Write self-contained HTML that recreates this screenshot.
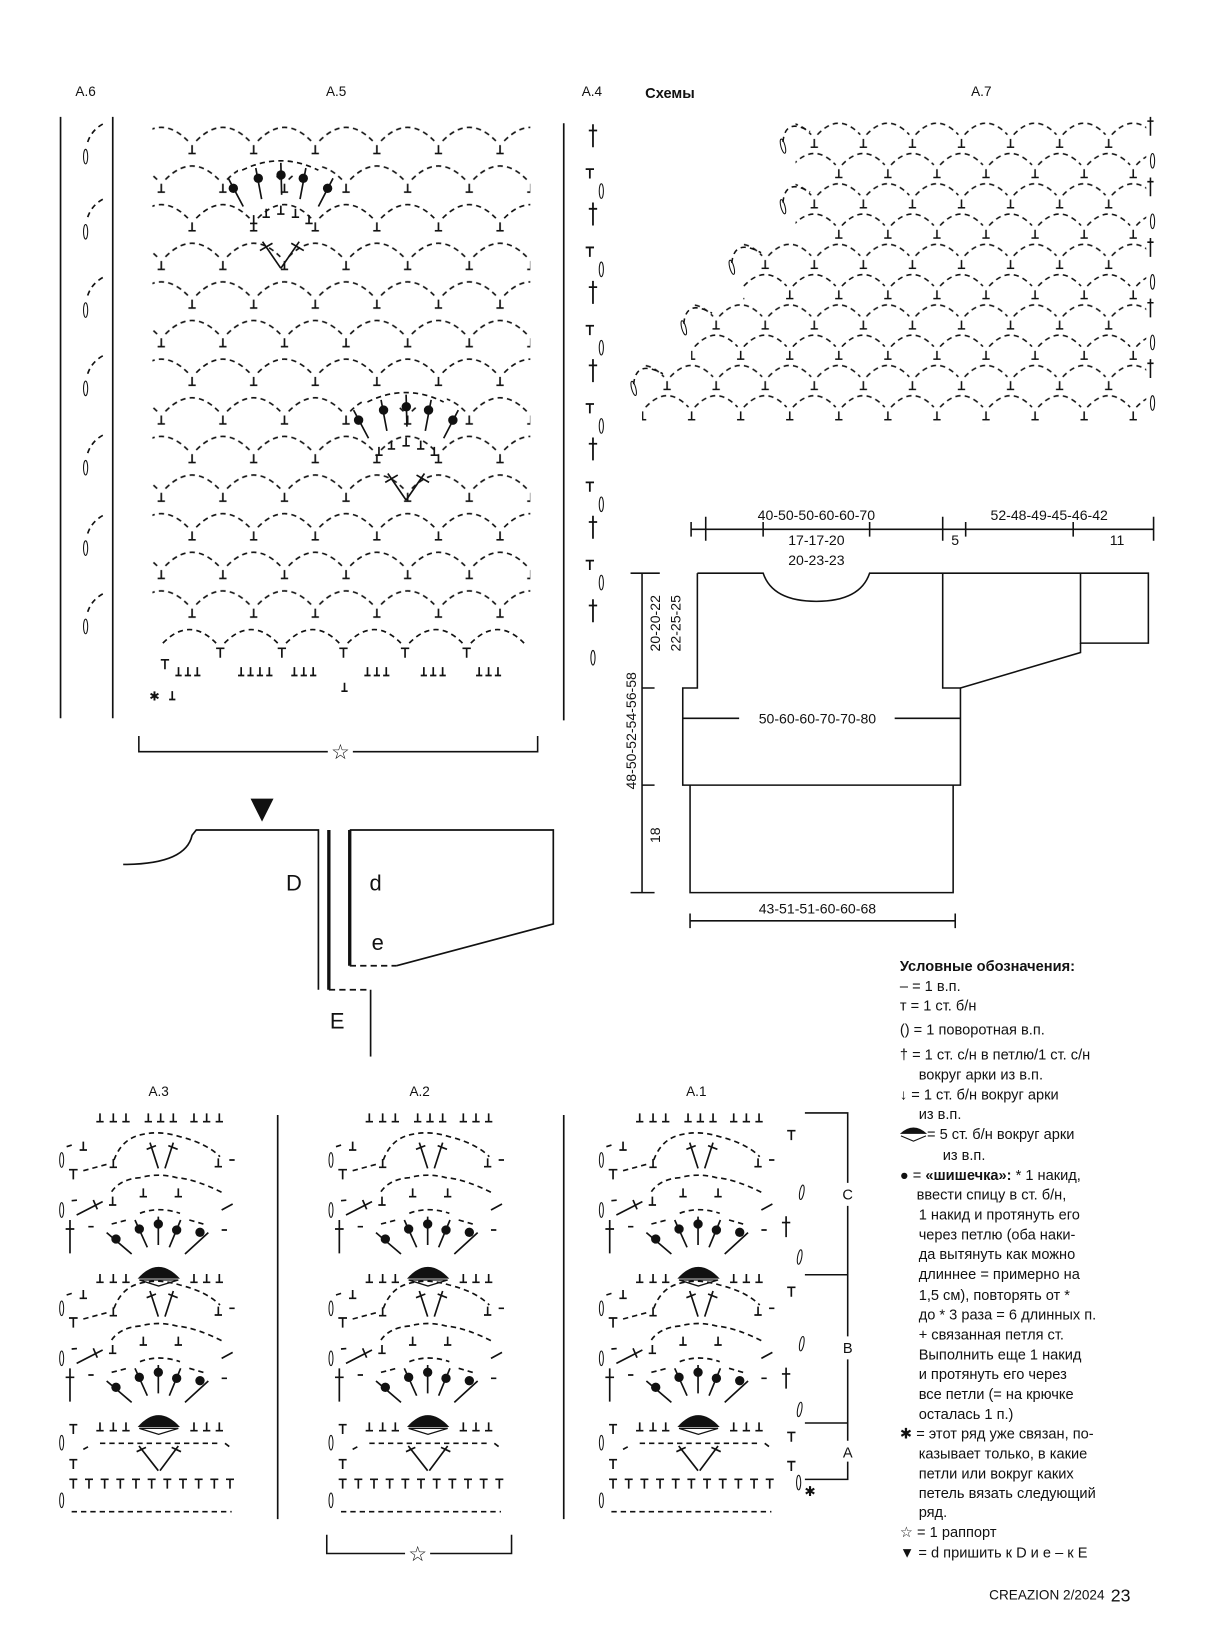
<!DOCTYPE html>
<html><head><meta charset="utf-8">
<style>
html,body{margin:0;padding:0;background:#fff;}
svg{display:block;}
text{font-family:"Liberation Sans",Arial,sans-serif;fill:#111;}
</style></head>
<body>
<svg xmlns="http://www.w3.org/2000/svg" xmlns:xlink="http://www.w3.org/1999/xlink" width="1211" height="1636" viewBox="0 0 1160 1567" preserveAspectRatio="none">
<rect width="1160" height="1567" fill="#fff"/>
<defs>
<pattern id="p5" patternUnits="userSpaceOnUse" x="125" y="120" width="59" height="74">
 <g fill="none" stroke="#111" stroke-width="1.6">
  <g stroke-dasharray="5 4">
   <path d="M4 15 Q29.5 -11 55 15"/>
   <path d="M-25.5 52 Q0 26 25.5 52 M33.5 52 Q59 26 84.5 52"/>
  </g>
  <path d="M0 19 V27 M-3.5 27 H3.5 M59 19 V27 M55.5 27 H62.5 M29.5 56 V64 M26 64 H33"/>
 </g>
</pattern>
<pattern id="p7" patternUnits="userSpaceOnUse" x="780" y="117" width="47" height="58">
 <g fill="none" stroke="#111" stroke-width="1.5">
  <g stroke-dasharray="5 4">
   <path d="M3 12 Q23.5 -10 44 12"/>
   <path d="M-20.5 41 Q0 19 20.5 41 M26.5 41 Q47 19 67.5 41"/>
  </g>
  <path d="M0 16 V24 M-3.5 24 H3.5 M47 16 V24 M43.5 24 H50.5 M23.5 45 V53 M20 53 H27"/>
 </g>
</pattern>
<g id="fan">
 <rect x="228" y="150" width="80" height="18" fill="#fff"/>
 <g fill="none" stroke="#111" stroke-width="1.6">
  <path d="M232 163 Q268.5 145 305 163" stroke-dasharray="5 4"/>
  <path d="M218.7 170.8 L233 197.8 M245 161 L250.6 190.7 M269 156 L269.8 186.6 M293 161 L287.4 190.7 M319 170.8 L305 197.8"/>
  <path d="M243 206 V214 M239.5 214 H246.5 M255 200 V208 M251.5 208 H258.5 M269 197 V205 M265.5 205 H272.5 M283 200 V208 M279.5 208 H286.5 M296 206 V214 M292.5 214 H299.5"/>
  <path d="M269 257 L251.5 231.5 M269 257 L286.6 231.5 M249 240 L261 233 M279 233 L291 240"/>
 </g>
 <g fill="#111">
  <circle cx="223.5" cy="180.4" r="4.5"/><circle cx="247.4" cy="170.8" r="4.5"/><circle cx="269.2" cy="167.6" r="4.5"/><circle cx="290.5" cy="170.8" r="4.5"/><circle cx="313.8" cy="180.4" r="4.5"/>
 </g>
</g>
<g id="unit">
 <g fill="none" stroke="#111" stroke-width="5">
  <path d="M87 359 H113 M100 359 V388"/>
  <path d="M130 275V300M119 300H141 M220 327V352M209 352H231 M535 325V350M524 350H546 M310 415V440M299 440H321 M415 415V440M404 440H426 M218 440V465M207 465H229"/>
  <path d="M355 355 L330 278 M375 355 L400 278 M320 298 L348 287 M385 287 L413 298"/>
  <path d="M110 495 L188 455 M160 450 L172 478 M545 480 L578 462"/>
  <path d="M90 510 V610 M77 537 H103"/>
  <path d="M355 585 L355 500 M322 592 L285 510 M388 592 L422 510 M275 612 L200 548 M435 612 L505 548"/>
  <path d="M180 672V697M169 697H191 M220 672V697M209 697H231 M258 672V697M247 697H269 M462 672V697M451 697H473 M500 672V697M489 697H511 M538 672V697M527 697H549"/>
  <g stroke-dasharray="16 12">
   <path d="M80 290 L102 283 M130 362 L205 342 M568 330 L590 330 M95 452 L118 450 M215 522 L262 510 M448 510 L500 525 M145 530 L172 530 M545 540 L572 540"/>
   <path d="M222 330 Q245 268 300 255 Q355 240 420 260 Q500 280 540 320"/>
   <path d="M215 425 Q240 388 300 383 Q355 368 410 383 Q470 388 555 432"/>
   <path d="M300 490 Q355 468 420 490"/>
  </g>
  <ellipse cx="65" cy="330" rx="6" ry="22" stroke-width="3"/>
  <ellipse cx="65" cy="480" rx="6" ry="22" stroke-width="3"/>
 </g>
 <g fill="#111">
  <circle cx="355" cy="522" r="14"/><circle cx="298" cy="537" r="14"/><circle cx="410" cy="540" r="14"/><circle cx="228" cy="567" r="14"/><circle cx="480" cy="547" r="14"/>
  <path d="M293 686 Q355 615 420 686 Z"/>
 </g>
 <path d="M298 690 L356 708 L415 690 Z" fill="#fff" stroke="#111" stroke-width="4"/>
</g>
<g id="chart">
 <g fill="none" stroke="#111" stroke-width="5">
  <path d="M180 190V215M169 215H191 M220 190V215M209 215H231 M258 190V215M247 215H269 M325 190V215M314 215H336 M362 190V215M351 215H373 M400 190V215M389 215H411 M462 190V215M451 215H473 M500 190V215M489 215H511 M538 190V215M527 215H549"/>
  <path d="M88 1124 H112 M100 1124 V1152 M88 1229 H112 M100 1229 V1257"/>
  <path d="M297 1188 L355 1262 M415 1188 L360 1262 M290 1205 L318 1192 M395 1192 L423 1205"/>
  <path d="M88 1288H112M100 1288V1316 M135 1288H159M147 1288V1316 M182 1288H206M194 1288V1316 M229 1288H253M241 1288V1316 M276 1288H300M288 1288V1316 M323 1288H347M335 1288V1316 M370 1288H394M382 1288V1316 M417 1288H441M429 1288V1316 M464 1288H488M476 1288V1316 M511 1288H535M523 1288V1316 M558 1288H582M570 1288V1316"/>
  <g stroke-dasharray="16 12">
   <path d="M130 1198 L152 1186 M180 1180 L540 1180 M555 1180 L575 1195 M95 1385 L575 1385"/>
  </g>
  <ellipse cx="65" cy="1178" rx="6" ry="22" stroke-width="3"/>
  <ellipse cx="65" cy="1351" rx="6" ry="22" stroke-width="3"/>
 </g>
 <use href="#unit" xlink:href="#unit"/>
 <use href="#unit" xlink:href="#unit" transform="translate(0,445)"/>
</g>
</defs>

<!-- A.5 -->
<rect x="146" y="118" width="362" height="483" fill="url(#p5)"/>
<g fill="none" stroke="#111" stroke-width="1.6">
 <path stroke-dasharray="5 4" d="M156 616 Q181.5 590 207 616 M215 616 Q240.5 590 266 616 M274 616 Q299.5 590 325 616 M333 616 Q358.5 590 384 616 M392 616 Q417.5 590 443 616 M451 616 Q476.5 590 502 616"/>
 <path d="M207 621 H215 M211 621 V630 M266 621 H274 M270 621 V630 M325 621 H333 M329 621 V630 M384 621 H392 M388 621 V630 M443 621 H451 M447 621 V630 M154 632 H162 M158 632 V641"/>
 <path d="M171 639V647M168 647H174 M180 639V647M177 647H183 M189 639V647M186 647H192 M231 639V647M228 647H234 M240 639V647M237 647H243 M249 639V647M246 647H252 M258 639V647M255 647H261 M282 639V647M279 647H285 M291 639V647M288 647H294 M300 639V647M297 647H303 M352 639V647M349 647H355 M361 639V647M358 647H364 M370 639V647M367 647H373 M406 639V647M403 647H409 M415 639V647M412 647H418 M424 639V647M421 647H427 M459 639V647M456 647H462 M468 639V647M465 647H471 M477 639V647M474 647H480"/>
 <path d="M165 662V670M162 670H168 M330 654V662M327 662H333"/>
</g>
<use href="#fan" xlink:href="#fan"/>
<use href="#fan" xlink:href="#fan" transform="translate(120,222)"/>

<!-- A.6 -->
<g fill="none" stroke="#111" stroke-width="1.6">
 <path d="M58 112 V688 M108 112 V688"/>
 <g stroke-dasharray="5 4">
  <path d="M84 136 Q88 124 100 118 M84 208 Q88 196 100 190 M84 283 Q88 271 100 265 M84 358 Q88 346 100 340 M84 434 Q88 422 100 416 M84 511 Q88 499 100 493 M84 586 Q88 574 100 568"/>
 </g>
 <g stroke-width="1">
  <ellipse cx="82" cy="150" rx="2" ry="7"/><ellipse cx="82" cy="222" rx="2" ry="7"/><ellipse cx="82" cy="297" rx="2" ry="7"/><ellipse cx="82" cy="372" rx="2" ry="7"/><ellipse cx="82" cy="448" rx="2" ry="7"/><ellipse cx="82" cy="525" rx="2" ry="7"/><ellipse cx="82" cy="600" rx="2" ry="7"/>
 </g>
</g>
<!-- A.4 -->
<g fill="none" stroke="#111" stroke-width="1.7">
 <path d="M540 118 V690" stroke-width="1.6"/>
 <path d="M568 119V141M564 125H572 M568 194V216M564 200H572 M568 269V291M564 275H572 M568 344V366M564 350H572 M568 419V441M564 425H572 M568 494V516M564 500H572 M568 574V596M564 580H572"/>
 <path d="M561 162H569M565 162V171 M561 237H569M565 237V246 M561 312H569M565 312V321 M561 387H569M565 387V396 M561 462H569M565 462V471 M561 537H569M565 537V546"/>
 <g stroke-width="1">
  <ellipse cx="576" cy="183" rx="2" ry="7"/><ellipse cx="576" cy="258" rx="2" ry="7"/><ellipse cx="576" cy="333" rx="2" ry="7"/><ellipse cx="576" cy="408" rx="2" ry="7"/><ellipse cx="576" cy="483" rx="2" ry="7"/><ellipse cx="576" cy="558" rx="2" ry="7"/><ellipse cx="568" cy="630" rx="2" ry="7"/>
 </g>
</g>

<!-- A.7 -->
<rect x="762" y="117" width="336" height="116" fill="url(#p7)"/>
<rect x="712" y="233" width="386" height="58" fill="url(#p7)"/>
<rect x="662" y="291" width="436" height="58" fill="url(#p7)"/>
<rect x="615" y="349" width="483" height="58" fill="url(#p7)"/>
<g fill="none" stroke="#111" stroke-width="1.5">
 <g stroke-dasharray="5 4">
  <path d="M750 136 Q752 112 776 126 M750 194 Q752 170 776 184 M701 252 Q703 228 729 242 M655 310 Q657 286 682 300 M607 368 Q609 344 635 358"/>
 </g>
 <g stroke-width="1">
  <ellipse cx="750" cy="140" rx="2" ry="7" transform="rotate(-15 750 140)"/>
  <ellipse cx="750" cy="198" rx="2" ry="7" transform="rotate(-15 750 198)"/>
  <ellipse cx="701" cy="256" rx="2" ry="7" transform="rotate(-15 701 256)"/>
  <ellipse cx="655" cy="314" rx="2" ry="7" transform="rotate(-15 655 314)"/>
  <ellipse cx="607" cy="372" rx="2" ry="7" transform="rotate(-15 607 372)"/>
  <ellipse cx="1104" cy="154" rx="2" ry="7"/><ellipse cx="1104" cy="212" rx="2" ry="7"/><ellipse cx="1104" cy="270" rx="2" ry="7"/><ellipse cx="1104" cy="328" rx="2" ry="7"/><ellipse cx="1104" cy="386" rx="2" ry="7"/>
 </g>
 <path d="M1102 112V130M1099 116H1105 M1102 170V188M1099 174H1105 M1102 228V246M1099 232H1105 M1102 286V304M1099 290H1105 M1102 344V362M1099 348H1105"/>
</g>

<!-- bottom charts -->
<use href="#chart" xlink:href="#chart" transform="translate(38.3,1005.7) scale(0.3193)"/>
<use href="#chart" xlink:href="#chart" transform="translate(296.3,1005.7) scale(0.3193)"/>
<use href="#chart" xlink:href="#chart" transform="translate(555.3,1005.7) scale(0.3193)"/>
<g fill="none" stroke="#111" stroke-width="1.6">
 <path d="M266 1068 V1455 M540 1068 V1455"/>
 <path d="M754 1083H762M758 1083V1092 M754 1233H762M758 1233V1242 M754 1372H762M758 1372V1381 M754 1400H762M758 1400V1409"/>
 <path d="M753 1165V1185M749 1171H757 M753 1310V1330M749 1316H757"/>
 <g stroke-width="1">
  <ellipse cx="768" cy="1142" rx="2" ry="7" transform="rotate(10 768 1142)"/><ellipse cx="766" cy="1204" rx="2" ry="7" transform="rotate(10 766 1204)"/><ellipse cx="768" cy="1287" rx="2" ry="7" transform="rotate(10 768 1287)"/><ellipse cx="766" cy="1350" rx="2" ry="7" transform="rotate(10 766 1350)"/><ellipse cx="765" cy="1420" rx="2" ry="7"/>
 </g>
</g>

<!-- labels -->
<g font-size="13">
<text x="82" y="92" text-anchor="middle">A.6</text>
<text x="322" y="92" text-anchor="middle">A.5</text>
<text x="567" y="92" text-anchor="middle">A.4</text>
<text x="618" y="94" font-weight="bold" font-size="14">Схемы</text>
<text x="940" y="92" text-anchor="middle">A.7</text>
<text x="152" y="1050" text-anchor="middle">A.3</text>
<text x="402" y="1050" text-anchor="middle">A.2</text>
<text x="667" y="1050" text-anchor="middle">A.1</text>
</g>
<!-- lower left shape -->
<g fill="none" stroke="#111" stroke-width="1.6">
<path d="M118 828 Q178 828 184 800 L188 795 L305 795 L305 948"/>
<path d="M315 795 L315 948" stroke-width="3.2"/>
<path d="M335 795 L335 925" stroke-width="3.2"/>
<path d="M335 795 L530 795 L530 885 L380 925"/>
<path d="M335 925 L380 925" stroke-dasharray="6 4"/>
<path d="M315 948 L355 948" stroke-dasharray="6 4"/>
<path d="M355 948 L355 1012"/>
</g>
<path d="M240 765 L262 765 L251 787 Z" fill="#111"/>
<g font-size="21">
<text x="274" y="853">D</text>
<text x="354" y="853">d</text>
<text x="356" y="910">e</text>
<text x="316" y="985">E</text>
</g>
<!-- brackets -->
<g fill="none" stroke="#111" stroke-width="1.5">
<path d="M133 705 L133 720 L314 720 M338 720 L515 720 L515 705"/>
<path d="M313 1470 L313 1488 L388 1488 M412 1488 L490 1488 L490 1470"/>
<path d="M771 1066 L812 1066 L812 1133 M812 1155 L812 1280 M812 1302 L812 1380 M812 1400 L812 1417 L771 1417 M771 1221 L812 1221 M771 1363 L812 1363"/>
</g>
<text x="326" y="727" text-anchor="middle" font-size="20">☆</text>
<text x="400" y="1495" text-anchor="middle" font-size="20">☆</text>
<g font-size="14">
<text x="812" y="1149" text-anchor="middle">C</text>
<text x="812" y="1296" text-anchor="middle">B</text>
<text x="812" y="1396" text-anchor="middle">A</text>
<text x="776" y="1433" text-anchor="middle" font-size="13">✱</text>
<text x="148" y="671" text-anchor="middle" font-size="12">✱</text>
</g>
<!-- schematic -->
<g fill="none" stroke="#111" stroke-width="1.5">
<path d="M662 507 L1105 507 M662 500 L662 514 M676 495 L676 518 M731 500 L731 514 M833 500 L833 514 M903 495 L903 518 M925 500 L925 514 M1028 500 L1028 514 M1105 495 L1105 518"/>
<path d="M668 549 L731 549 Q740 576 782 576 Q824 576 833 549 L1100 549 L1100 616 L1035 616 L1035 549"/>
<path d="M668 549 L668 659 L654 659 L654 752 L920 752 L920 659 L903 659 L903 549"/>
<path d="M920 659 L1035 625 L1035 616"/>
<path d="M654 688 L708 688 M857 688 L920 688"/>
<path d="M661 752 L661 855 L913 855 L913 752"/>
<path d="M661 882 L915 882 M661 875 L661 889 M915 875 L915 889"/>
<path d="M615 549 L615 855 M604 549 L632 549 M615 659 L627 659 M615 752 L627 752 M604 855 L627 855"/>
</g>
<g font-size="13.5">
<text x="782" y="498" text-anchor="middle">40-50-50-60-60-70</text>
<text x="1005" y="498" text-anchor="middle">52-48-49-45-46-42</text>
<text x="782" y="522" text-anchor="middle">17-17-20</text>
<text x="782" y="541" text-anchor="middle">20-23-23</text>
<text x="915" y="522" text-anchor="middle">5</text>
<text x="1070" y="522" text-anchor="middle">11</text>
<text x="783" y="693" text-anchor="middle">50-60-60-70-70-80</text>
<text x="783" y="875" text-anchor="middle">43-51-51-60-60-68</text>
<text transform="translate(609,700) rotate(-90)" text-anchor="middle">48-50-52-54-56-58</text>
<text transform="translate(632,597) rotate(-90)" text-anchor="middle">20-20-22</text>
<text transform="translate(652,597) rotate(-90)" text-anchor="middle">22-25-25</text>
<text transform="translate(632,800) rotate(-90)" text-anchor="middle">18</text>
</g>
<!-- legend -->
<g font-size="14">
<text x="862" y="930" font-weight="bold">Условные обозначения:</text>
<text x="862" y="949">– = 1 в.п.</text>
<text x="862" y="968">т = 1 ст. б/н</text>
<text x="862" y="991">() = 1 поворотная в.п.</text>
<text x="862" y="1015">† = 1 ст. с/н в петлю/1 ст. с/н</text>
<text x="880" y="1034">вокруг арки из в.п.</text>
<text x="862" y="1053">↓ = 1 ст. б/н вокруг арки</text>
<text x="880" y="1072">из в.п.</text>
<text x="888" y="1091">= 5 ст. б/н вокруг арки</text>
<text x="903" y="1111">из в.п.</text>
<text x="862" y="1130">● = <tspan font-weight="bold">«шишечка»:</tspan> * 1 накид,</text>
<text x="878" y="1149">ввести спицу в ст. б/н,</text>
<text x="880" y="1168">1 накид и протянуть его</text>
<text x="880" y="1187">через петлю (оба наки-</text>
<text x="880" y="1206">да вытянуть как можно</text>
<text x="880" y="1225">длиннее = примерно на</text>
<text x="880" y="1245">1,5 см), повторять от *</text>
<text x="880" y="1264">до * 3 раза = 6 длинных п.</text>
<text x="880" y="1283">+ связанная петля ст.</text>
<text x="880" y="1302">Выполнить еще 1 накид</text>
<text x="880" y="1321">и протянуть его через</text>
<text x="880" y="1340">все петли (= на крючке</text>
<text x="880" y="1359">осталась 1 п.)</text>
<text x="862" y="1378">✱ = этот ряд уже связан, по-</text>
<text x="880" y="1397">казывает только, в какие</text>
<text x="880" y="1416">петли или вокруг каких</text>
<text x="880" y="1435">петель вязать следующий</text>
<text x="880" y="1453">ряд.</text>
<text x="862" y="1472">☆ = 1 раппорт</text>
<text x="862" y="1492">▼ = d пришить к D и e – к E</text>
<text x="1058" y="1532" text-anchor="end" font-size="13">CREAZION 2/2024</text>
<text x="1064" y="1534" font-size="17">23</text>
</g>
<path d="M862 1086 Q875 1074 888 1086 Z" fill="#111"/><path d="M863 1088 L875 1093 L887 1088" fill="#fff" stroke="#111"/>
</svg>
</body></html>
